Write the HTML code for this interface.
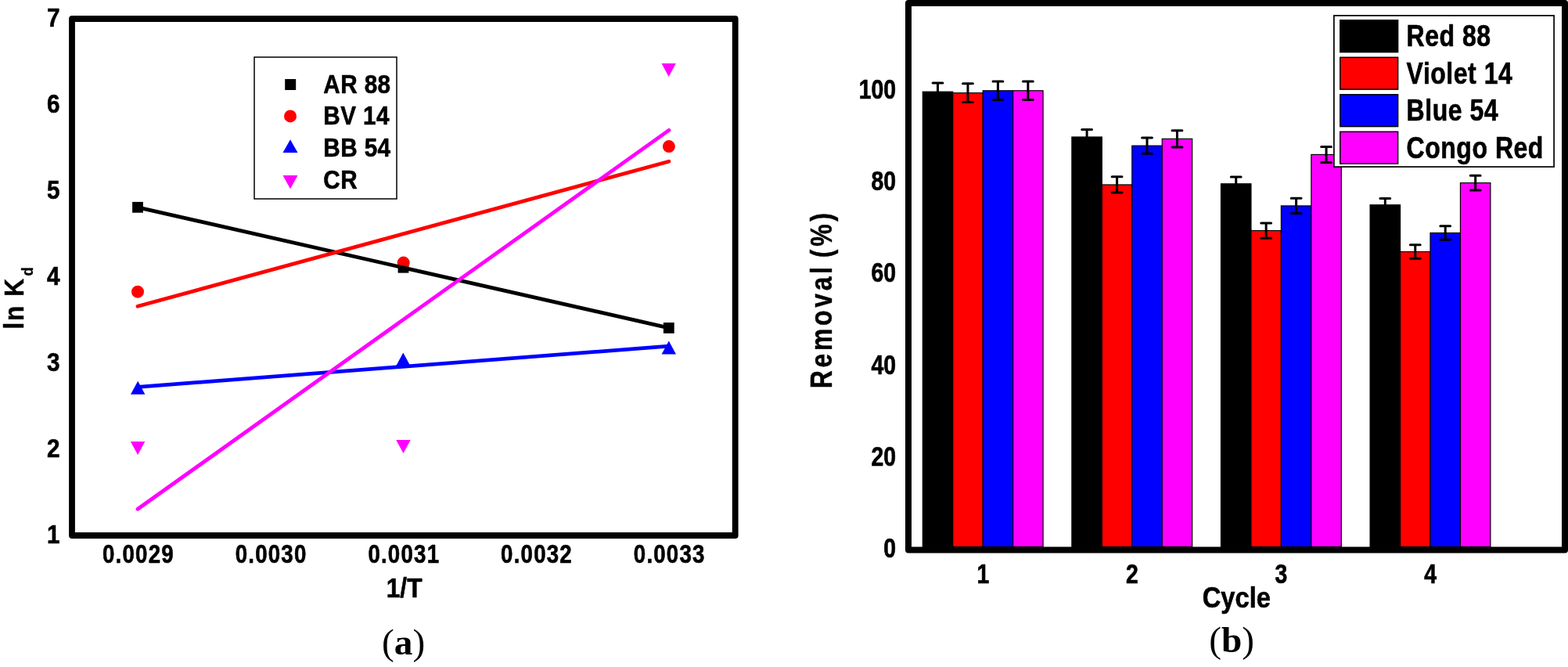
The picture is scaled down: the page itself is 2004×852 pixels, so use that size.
<!DOCTYPE html><html><head><meta charset="utf-8"><title>Figure</title><style>html,body{margin:0;padding:0;background:#fff;overflow:hidden}svg{display:block}</style></head><body>
<svg width="2004" height="852" viewBox="0 0 2004 852">
<rect x="0" y="0" width="2004" height="852" fill="#fff"/>
<g id="markers">
<rect x="169.10" y="257.90" width="13.8" height="13.8" fill="#000"/>
<rect x="508.60" y="334.80" width="13.8" height="13.8" fill="#000"/>
<rect x="847.90" y="412.00" width="13.8" height="13.8" fill="#000"/>
<circle cx="176.00" cy="372.70" r="8" fill="#f00"/>
<circle cx="515.70" cy="335.60" r="8" fill="#f00"/>
<circle cx="854.90" cy="187.10" r="8" fill="#f00"/>
<polygon points="176.20,486.70 185.40,503.70 167.00,503.70" fill="#00f"/>
<polygon points="515.30,450.60 524.50,467.60 506.10,467.60" fill="#00f"/>
<polygon points="854.80,435.40 864.00,452.40 845.60,452.40" fill="#00f"/>
<polygon points="166.90,564.10 185.30,564.10 176.10,581.10" fill="#f0f"/>
<polygon points="506.30,562.10 524.70,562.10 515.50,579.10" fill="#f0f"/>
<polygon points="845.50,81.00 863.90,81.00 854.70,98.00" fill="#f0f"/>
</g>
<line x1="176" y1="264.8" x2="854.8" y2="418.9" stroke="#000" stroke-width="4.8" stroke-linecap="round"/>
<line x1="176" y1="391.3" x2="854.9" y2="206.2" stroke="#f00" stroke-width="4.8" stroke-linecap="round"/>
<line x1="176" y1="494.3" x2="854.8" y2="442.2" stroke="#00f" stroke-width="4.8" stroke-linecap="round"/>
<line x1="176" y1="650.3" x2="854.9" y2="166.4" stroke="#f0f" stroke-width="4.8" stroke-linecap="round"/>
<rect x="92" y="24" width="847.7" height="660" fill="none" stroke="#000" stroke-width="7.8" stroke-linejoin="round"/>
<rect x="325" y="73" width="182" height="181" fill="none" stroke="#000" stroke-width="1.5"/>
<rect x="364.2" y="101" width="14" height="14" fill="#000"/>
<circle cx="371" cy="148.4" r="8" fill="#f00"/>
<polygon points="371,178.3 380.5,195 361.5,195" fill="#00f"/>
<polygon points="361.5,223.9 380.5,223.9 371,241.2" fill="#f0f"/>
<text transform="translate(413.30,118.70) scale(0.9,1.0)" font-size="33" text-anchor="start" font-weight="bold" font-family='"Liberation Sans", Arial, Helvetica, sans-serif' stroke="#000" stroke-width="0.61" stroke-linejoin="round" letter-spacing="0.45">AR 88</text>
<text transform="translate(413.30,159.40) scale(0.9,1.0)" font-size="33" text-anchor="start" font-weight="bold" font-family='"Liberation Sans", Arial, Helvetica, sans-serif' stroke="#000" stroke-width="0.61" stroke-linejoin="round" letter-spacing="0.45">BV 14</text>
<text transform="translate(413.30,200.10) scale(0.9,1.0)" font-size="33" text-anchor="start" font-weight="bold" font-family='"Liberation Sans", Arial, Helvetica, sans-serif' stroke="#000" stroke-width="0.61" stroke-linejoin="round" letter-spacing="0.45">BB 54</text>
<text transform="translate(413.30,240.80) scale(0.9,1.0)" font-size="33" text-anchor="start" font-weight="bold" font-family='"Liberation Sans", Arial, Helvetica, sans-serif' stroke="#000" stroke-width="0.61" stroke-linejoin="round" letter-spacing="0.45">CR</text>
<text transform="translate(76.60,693.60) scale(0.9,1.0)" font-size="33" text-anchor="end" font-weight="bold" font-family='"Liberation Sans", Arial, Helvetica, sans-serif' stroke="#000" stroke-width="0.61" stroke-linejoin="round">1</text>
<text transform="translate(76.60,583.60) scale(0.9,1.0)" font-size="33" text-anchor="end" font-weight="bold" font-family='"Liberation Sans", Arial, Helvetica, sans-serif' stroke="#000" stroke-width="0.61" stroke-linejoin="round">2</text>
<text transform="translate(76.60,473.60) scale(0.9,1.0)" font-size="33" text-anchor="end" font-weight="bold" font-family='"Liberation Sans", Arial, Helvetica, sans-serif' stroke="#000" stroke-width="0.61" stroke-linejoin="round">3</text>
<text transform="translate(76.60,363.60) scale(0.9,1.0)" font-size="33" text-anchor="end" font-weight="bold" font-family='"Liberation Sans", Arial, Helvetica, sans-serif' stroke="#000" stroke-width="0.61" stroke-linejoin="round">4</text>
<text transform="translate(76.60,253.60) scale(0.9,1.0)" font-size="33" text-anchor="end" font-weight="bold" font-family='"Liberation Sans", Arial, Helvetica, sans-serif' stroke="#000" stroke-width="0.61" stroke-linejoin="round">5</text>
<text transform="translate(76.60,143.60) scale(0.9,1.0)" font-size="33" text-anchor="end" font-weight="bold" font-family='"Liberation Sans", Arial, Helvetica, sans-serif' stroke="#000" stroke-width="0.61" stroke-linejoin="round">6</text>
<text transform="translate(76.60,33.60) scale(0.9,1.0)" font-size="33" text-anchor="end" font-weight="bold" font-family='"Liberation Sans", Arial, Helvetica, sans-serif' stroke="#000" stroke-width="0.61" stroke-linejoin="round">7</text>
<text transform="translate(176.90,718.60) scale(0.84,1.0)" font-size="33" text-anchor="middle" font-weight="bold" font-family='"Liberation Sans", Arial, Helvetica, sans-serif' stroke="#000" stroke-width="0.65" stroke-linejoin="round" letter-spacing="1.4">0.0029</text>
<text transform="translate(346.60,718.60) scale(0.84,1.0)" font-size="33" text-anchor="middle" font-weight="bold" font-family='"Liberation Sans", Arial, Helvetica, sans-serif' stroke="#000" stroke-width="0.65" stroke-linejoin="round" letter-spacing="1.4">0.0030</text>
<text transform="translate(516.30,718.60) scale(0.84,1.0)" font-size="33" text-anchor="middle" font-weight="bold" font-family='"Liberation Sans", Arial, Helvetica, sans-serif' stroke="#000" stroke-width="0.65" stroke-linejoin="round" letter-spacing="1.4">0.0031</text>
<text transform="translate(686.00,718.60) scale(0.84,1.0)" font-size="33" text-anchor="middle" font-weight="bold" font-family='"Liberation Sans", Arial, Helvetica, sans-serif' stroke="#000" stroke-width="0.65" stroke-linejoin="round" letter-spacing="1.4">0.0032</text>
<text transform="translate(855.70,718.60) scale(0.84,1.0)" font-size="33" text-anchor="middle" font-weight="bold" font-family='"Liberation Sans", Arial, Helvetica, sans-serif' stroke="#000" stroke-width="0.65" stroke-linejoin="round" letter-spacing="1.4">0.0033</text>
<text transform="translate(516.60,762.50) scale(0.9,1.0)" font-size="35.2" text-anchor="middle" font-weight="bold" font-family='"Liberation Sans", Arial, Helvetica, sans-serif' stroke="#000" stroke-width="0.61" stroke-linejoin="round">1/T</text>
<text transform="translate(30.4,420.5) rotate(-90) scale(0.877,1)" font-size="36" font-weight="bold" font-family='"Liberation Sans", Arial, Helvetica, sans-serif' stroke="#000" stroke-width="0.45" letter-spacing="1.85">ln K<tspan font-size="21" dx="2.1" dy="11.4" stroke-width="0.3">d</tspan></text>
<text x="515.6" y="835.8" font-size="47.3" text-anchor="middle" font-family='"Liberation Serif", "Times New Roman", Times, serif'>(<tspan font-weight="bold">a</tspan>)</text>
<rect x="1179.30" y="117.19" width="38.45" height="581.21" fill="#000" stroke="#000" stroke-width="1.2"/>
<rect x="1217.75" y="118.72" width="38.45" height="579.68" fill="#f00" stroke="#000" stroke-width="1.2"/>
<rect x="1256.20" y="115.79" width="38.45" height="582.61" fill="#00f" stroke="#000" stroke-width="1.2"/>
<rect x="1294.65" y="115.79" width="38.45" height="582.61" fill="#f0f" stroke="#000" stroke-width="1.2"/>
<rect x="1369.90" y="174.99" width="38.45" height="523.41" fill="#000" stroke="#000" stroke-width="1.2"/>
<rect x="1408.35" y="235.96" width="38.45" height="462.44" fill="#f00" stroke="#000" stroke-width="1.2"/>
<rect x="1446.80" y="186.13" width="38.45" height="512.27" fill="#00f" stroke="#000" stroke-width="1.2"/>
<rect x="1485.25" y="177.34" width="38.45" height="521.06" fill="#f0f" stroke="#000" stroke-width="1.2"/>
<rect x="1560.50" y="234.78" width="38.45" height="463.62" fill="#000" stroke="#000" stroke-width="1.2"/>
<rect x="1598.95" y="294.58" width="38.45" height="403.82" fill="#f00" stroke="#000" stroke-width="1.2"/>
<rect x="1637.40" y="262.92" width="38.45" height="435.48" fill="#00f" stroke="#000" stroke-width="1.2"/>
<rect x="1675.85" y="197.44" width="38.45" height="500.96" fill="#f0f" stroke="#000" stroke-width="1.2"/>
<rect x="1751.10" y="261.75" width="38.45" height="436.65" fill="#000" stroke="#000" stroke-width="1.2"/>
<rect x="1789.55" y="321.54" width="38.45" height="376.86" fill="#f00" stroke="#000" stroke-width="1.2"/>
<rect x="1828.00" y="297.51" width="38.45" height="400.89" fill="#00f" stroke="#000" stroke-width="1.2"/>
<rect x="1866.45" y="233.61" width="38.45" height="464.79" fill="#f0f" stroke="#000" stroke-width="1.2"/>
<path d="M1198.52,106.06V128.33M1192.12,106.06H1204.92M1192.12,128.33H1204.92" stroke="#000" stroke-width="3" stroke-linecap="round" fill="none"/>
<path d="M1236.97,106.82V130.62M1230.57,106.82H1243.38M1230.57,130.62H1243.38" stroke="#000" stroke-width="3" stroke-linecap="round" fill="none"/>
<path d="M1275.42,104.06V127.51M1269.02,104.06H1281.83M1269.02,127.51H1281.83" stroke="#000" stroke-width="3" stroke-linecap="round" fill="none"/>
<path d="M1313.87,104.06V127.51M1307.47,104.06H1320.27M1307.47,127.51H1320.27" stroke="#000" stroke-width="3" stroke-linecap="round" fill="none"/>
<path d="M1389.12,165.61V184.37M1382.72,165.61H1395.52M1382.72,184.37H1395.52" stroke="#000" stroke-width="3" stroke-linecap="round" fill="none"/>
<path d="M1427.57,225.82V246.10M1421.17,225.82H1433.97M1421.17,246.10H1433.97" stroke="#000" stroke-width="3" stroke-linecap="round" fill="none"/>
<path d="M1466.02,176.05V196.21M1459.62,176.05H1472.42M1459.62,196.21H1472.42" stroke="#000" stroke-width="3" stroke-linecap="round" fill="none"/>
<path d="M1504.47,166.79V187.89M1498.07,166.79H1510.87M1498.07,187.89H1510.87" stroke="#000" stroke-width="3" stroke-linecap="round" fill="none"/>
<path d="M1579.72,225.99V243.58M1573.32,225.99H1586.12M1573.32,243.58H1586.12" stroke="#000" stroke-width="3" stroke-linecap="round" fill="none"/>
<path d="M1618.17,284.96V304.19M1611.77,284.96H1624.58M1611.77,304.19H1624.58" stroke="#000" stroke-width="3" stroke-linecap="round" fill="none"/>
<path d="M1656.62,253.31V272.54M1650.22,253.31H1663.03M1650.22,272.54H1663.03" stroke="#000" stroke-width="3" stroke-linecap="round" fill="none"/>
<path d="M1695.07,187.48V207.41M1688.67,187.48H1701.47M1688.67,207.41H1701.47" stroke="#000" stroke-width="3" stroke-linecap="round" fill="none"/>
<path d="M1770.32,253.54V269.96M1763.92,253.54H1776.72M1763.92,269.96H1776.72" stroke="#000" stroke-width="3" stroke-linecap="round" fill="none"/>
<path d="M1808.77,312.75V330.34M1802.37,312.75H1815.17M1802.37,330.34H1815.17" stroke="#000" stroke-width="3" stroke-linecap="round" fill="none"/>
<path d="M1847.22,288.72V306.30M1840.82,288.72H1853.62M1840.82,306.30H1853.62" stroke="#000" stroke-width="3" stroke-linecap="round" fill="none"/>
<path d="M1885.67,224.23V242.99M1879.27,224.23H1892.07M1879.27,242.99H1892.07" stroke="#000" stroke-width="3" stroke-linecap="round" fill="none"/>
<rect x="1704.9" y="19.9" width="281.2" height="193.2" fill="#fff" stroke="#000" stroke-width="1.7"/>
<rect x="1712.8" y="25.80" width="73.8" height="40.8" fill="#000" stroke="#000" stroke-width="1.5"/>
<rect x="1712.8" y="73.30" width="73.8" height="40.8" fill="#f00" stroke="#000" stroke-width="1.5"/>
<rect x="1712.8" y="120.80" width="73.8" height="40.8" fill="#00f" stroke="#000" stroke-width="1.5"/>
<rect x="1712.8" y="168.30" width="73.8" height="40.8" fill="#f0f" stroke="#000" stroke-width="1.5"/>
<text transform="translate(1797.60,59.30) scale(0.83,1.0)" font-size="38.6" text-anchor="start" font-weight="bold" font-family='"Liberation Sans", Arial, Helvetica, sans-serif' stroke="#000" stroke-width="0.66" stroke-linejoin="round" letter-spacing="0.6">Red 88</text>
<text transform="translate(1797.60,106.80) scale(0.83,1.0)" font-size="38.6" text-anchor="start" font-weight="bold" font-family='"Liberation Sans", Arial, Helvetica, sans-serif' stroke="#000" stroke-width="0.66" stroke-linejoin="round" letter-spacing="0.6">Violet 14</text>
<text transform="translate(1797.60,154.30) scale(0.83,1.0)" font-size="38.6" text-anchor="start" font-weight="bold" font-family='"Liberation Sans", Arial, Helvetica, sans-serif' stroke="#000" stroke-width="0.66" stroke-linejoin="round" letter-spacing="0.6">Blue 54</text>
<text transform="translate(1797.60,201.80) scale(0.83,1.0)" font-size="38.6" text-anchor="start" font-weight="bold" font-family='"Liberation Sans", Arial, Helvetica, sans-serif' stroke="#000" stroke-width="0.66" stroke-linejoin="round" letter-spacing="0.6">Congo Red</text>
<rect x="1161" y="4" width="839" height="698.5" fill="none" stroke="#000" stroke-width="8" stroke-linejoin="round"/>
<text transform="translate(1145.00,712.20) scale(0.8,1.0)" font-size="35.5" text-anchor="end" font-weight="bold" font-family='"Liberation Sans", Arial, Helvetica, sans-serif' stroke="#000" stroke-width="0.69" stroke-linejoin="round">0</text>
<text transform="translate(1145.00,594.96) scale(0.8,1.0)" font-size="35.5" text-anchor="end" font-weight="bold" font-family='"Liberation Sans", Arial, Helvetica, sans-serif' stroke="#000" stroke-width="0.69" stroke-linejoin="round">20</text>
<text transform="translate(1145.00,477.72) scale(0.8,1.0)" font-size="35.5" text-anchor="end" font-weight="bold" font-family='"Liberation Sans", Arial, Helvetica, sans-serif' stroke="#000" stroke-width="0.69" stroke-linejoin="round">40</text>
<text transform="translate(1145.00,360.48) scale(0.8,1.0)" font-size="35.5" text-anchor="end" font-weight="bold" font-family='"Liberation Sans", Arial, Helvetica, sans-serif' stroke="#000" stroke-width="0.69" stroke-linejoin="round">60</text>
<text transform="translate(1145.00,243.24) scale(0.8,1.0)" font-size="35.5" text-anchor="end" font-weight="bold" font-family='"Liberation Sans", Arial, Helvetica, sans-serif' stroke="#000" stroke-width="0.69" stroke-linejoin="round">80</text>
<text transform="translate(1145.00,126.00) scale(0.8,1.0)" font-size="35.5" text-anchor="end" font-weight="bold" font-family='"Liberation Sans", Arial, Helvetica, sans-serif' stroke="#000" stroke-width="0.69" stroke-linejoin="round">100</text>
<text transform="translate(1256.30,745.40) scale(0.8,1.0)" font-size="35.5" text-anchor="middle" font-weight="bold" font-family='"Liberation Sans", Arial, Helvetica, sans-serif' stroke="#000" stroke-width="0.69" stroke-linejoin="round">1</text>
<text transform="translate(1446.90,745.40) scale(0.8,1.0)" font-size="35.5" text-anchor="middle" font-weight="bold" font-family='"Liberation Sans", Arial, Helvetica, sans-serif' stroke="#000" stroke-width="0.69" stroke-linejoin="round">2</text>
<text transform="translate(1637.50,745.40) scale(0.8,1.0)" font-size="35.5" text-anchor="middle" font-weight="bold" font-family='"Liberation Sans", Arial, Helvetica, sans-serif' stroke="#000" stroke-width="0.69" stroke-linejoin="round">3</text>
<text transform="translate(1828.10,745.40) scale(0.8,1.0)" font-size="35.5" text-anchor="middle" font-weight="bold" font-family='"Liberation Sans", Arial, Helvetica, sans-serif' stroke="#000" stroke-width="0.69" stroke-linejoin="round">4</text>
<text transform="translate(1580.30,775.60) scale(0.87,1.0)" font-size="37.6" text-anchor="middle" font-weight="bold" font-family='"Liberation Sans", Arial, Helvetica, sans-serif' stroke="#000" stroke-width="0.63" stroke-linejoin="round">Cycle</text>
<text transform="translate(1063.0,496.2) rotate(-90) scale(0.83,1)" font-size="38.5" font-weight="bold" font-family='"Liberation Sans", Arial, Helvetica, sans-serif' stroke="#000" stroke-width="0.48" stroke-linejoin="round" letter-spacing="4.45">Removal<tspan dx="9.7">(%)</tspan></text>
<text x="1574.2" y="833.4" font-size="47.3" text-anchor="middle" font-family='"Liberation Serif", "Times New Roman", Times, serif'>(<tspan font-weight="bold">b</tspan>)</text>
</svg></body></html>
